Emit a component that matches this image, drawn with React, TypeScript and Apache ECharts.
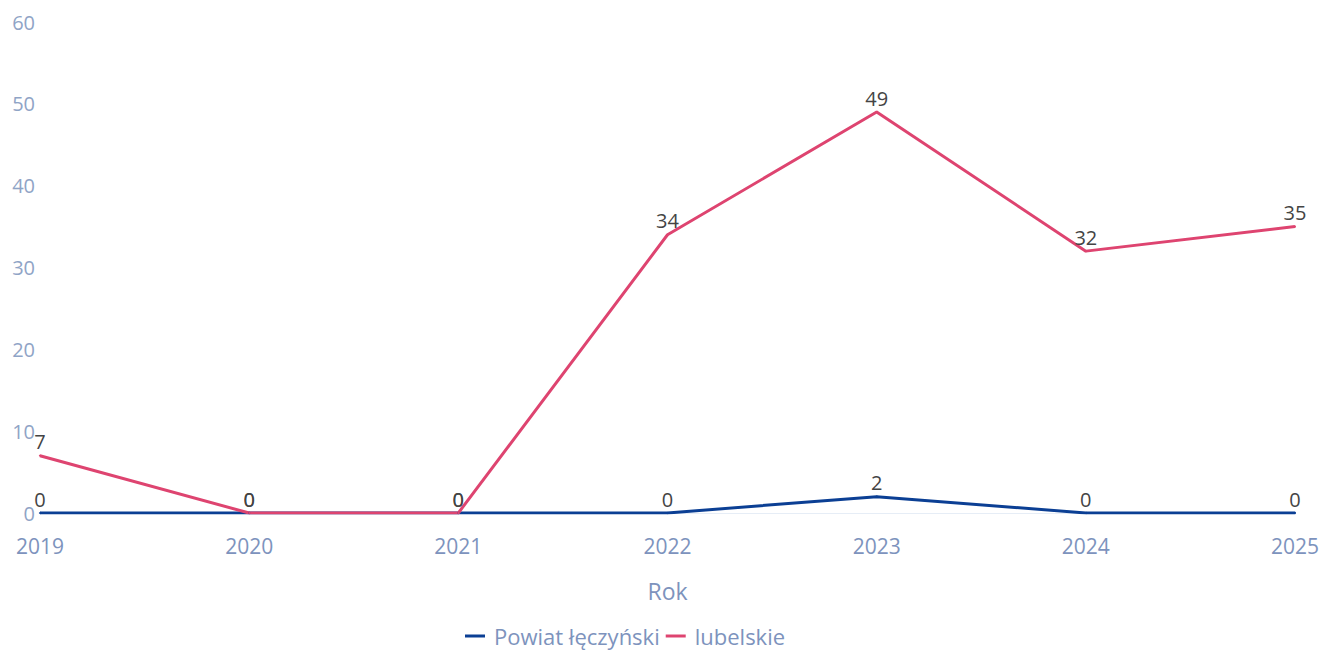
import React, { useEffect, useRef } from "react";
import * as echarts from "echarts";

const years = ["2019", "2020", "2021", "2022", "2023", "2024", "2025"];
const powiat = [0, 0, 0, 0, 2, 0, 0];
const lubelskie = [7, 0, 0, 34, 49, 32, 35];
const seriesNames = ["Powiat łęczyński", "lubelskie"];
const colors = ["#0b3f94", "#de4470"];

export default function App() {
  const ref = useRef<HTMLDivElement>(null);
  useEffect(() => {
    if (!ref.current) return;
    const chart = echarts.init(ref.current, undefined, { renderer: "svg" });
    const font = "'Open Sans', sans-serif";
    const label = {
      show: true,
      position: "top",
      distance: 3,
      color: "#444",
      fontSize: 20,
      fontFamily: font,
    };
    chart.setOption({
      animation: false,
      textStyle: { fontFamily: font },
      grid: { left: 40, right: 29, top: 22, bottom: 141, containLabel: false },
      legend: {
        bottom: 2,
        left: 460,
        itemWidth: 20,
        itemHeight: 3,
        itemGap: 6,
        icon: "rect",
        textStyle: { color: "#7d93bd", fontSize: 22, fontFamily: font, padding: [0, 0, 0, 4] },
        data: seriesNames,
      },
      xAxis: {
        type: "category",
        data: years,
        boundaryGap: false,
        name: "Rok",
        nameLocation: "middle",
        nameGap: 66,
        nameTextStyle: { color: "#7d93bd", fontSize: 23, fontFamily: font },
        axisLine: { show: true, lineStyle: { color: "#e6edf6", width: 1 } },
        axisTick: { show: false },
        axisLabel: { color: "#7d93bd", fontSize: 21, margin: 22, fontFamily: font },
        splitLine: { show: false },
      },
      yAxis: {
        type: "value",
        min: 0,
        max: 60,
        interval: 10,
        axisLine: { show: false },
        axisTick: { show: false },
        axisLabel: { color: "#8fa4c6", fontSize: 20, margin: 5, fontFamily: font },
        splitLine: { show: false },
      },
      series: [
        {
          name: seriesNames[0],
          type: "line",
          data: powiat,
          color: colors[0],
          lineStyle: { width: 3, color: colors[0] },
          symbol: "circle",
          symbolSize: 2,
          showSymbol: true,
          itemStyle: { color: colors[0] },
          label,
        },
        {
          name: seriesNames[1],
          type: "line",
          data: lubelskie,
          color: colors[1],
          lineStyle: { width: 3, color: colors[1] },
          symbol: "circle",
          symbolSize: 2,
          showSymbol: true,
          itemStyle: { color: colors[1] },
          label,
        },
      ],
    });
    return () => chart.dispose();
  }, []);
  return (
    <div
      ref={ref}
      style={{ position: "fixed", left: 0, top: 0, width: 1324, height: 654, background: "#fff" }}
    />
  );
}
